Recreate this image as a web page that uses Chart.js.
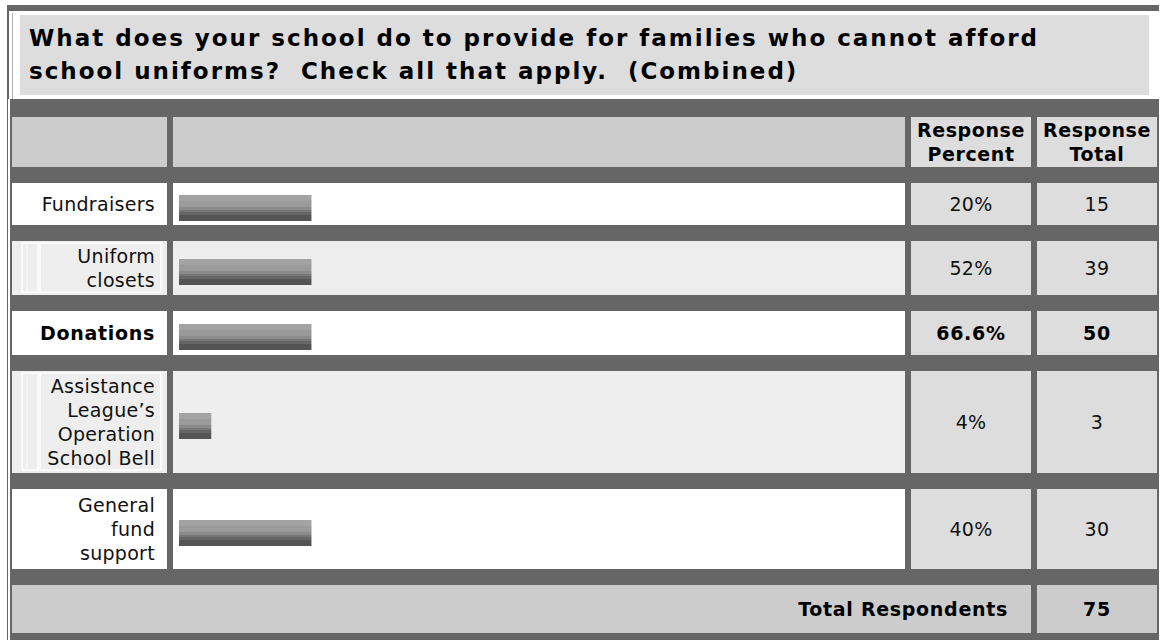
<!DOCTYPE html>
<html>
<head>
<meta charset="utf-8">
<script src="https://cdn.jsdelivr.net/npm/chart.js"></script>
<style>
  html,body{margin:0;padding:0;background:#fff;width:1161px;height:640px;overflow:hidden;}
  body{font-family:"DejaVu Sans",Verdana,sans-serif;color:#111;}
  #frame{position:absolute;left:7px;top:5px;width:1152px;height:640px;background:#666;}
  #titleWrap{position:absolute;left:2px;top:6px;width:1150px;height:88px;background:#fff;}
  #titleWrap .edge{position:absolute;left:3px;top:2px;bottom:0;width:1px;background:#b0b0b0;}
  #title{position:absolute;left:11px;top:4px;width:1129px;height:80px;background:#ddd;
    font-weight:bold;font-size:23px;letter-spacing:2px;line-height:33px;padding:7px 0 0 9px;box-sizing:border-box;color:#000;white-space:nowrap;}
  #leftLine{position:absolute;left:1px;top:94px;width:2px;bottom:0;background:#fff;}
  #grid{position:absolute;left:0;top:94px;display:grid;
    grid-template-columns:155px 732px 120px 120px;
    grid-template-rows:50px 42px 54px 44px 102px 80px 48px;
    column-gap:6px;row-gap:16px;padding:18px 0 0 5px;}
  .cell{display:flex;align-items:center;font-size:19px;letter-spacing:0.3px;line-height:24px;white-space:pre-line;position:relative;box-sizing:border-box;}
  .hdr{background:#ccc;}
  .hdrR{background:#ddd;justify-content:center;text-align:center;font-weight:bold;letter-spacing:0.6px;color:#000;}
  .lab{justify-content:flex-end;text-align:right;padding-right:12px;}
  .num{background:#ddd;justify-content:center;text-align:center;}
  .white{background:#fff;}
  .light{background:#eee;}
  .bold{font-weight:bold;letter-spacing:0.7px;color:#000;}
  .nested::before{content:"";position:absolute;left:9px;top:1px;right:5px;bottom:2px;border:2px solid #fafafa;}
  .nested::after{content:"";position:absolute;left:25px;top:3px;bottom:4px;width:4px;background:#fafafa;box-shadow:-12px 0 0 -1px #f5f5f5;}
  .nested span{position:relative;z-index:1;}
  .barWrap{position:absolute;left:6px;top:calc(50% - 9px);width:726px;height:26px;}
  .totalLab{grid-column:1 / span 3;background:#ccc;justify-content:flex-end;padding-right:23px;font-weight:bold;letter-spacing:0.7px;color:#000;}
  .totalNum{background:#ccc;justify-content:center;font-weight:bold;letter-spacing:0.7px;color:#000;}
</style>
</head>
<body>
<div id="frame">
  <div id="titleWrap"><div class="edge"></div>
    <div id="title">What does your school do to provide for families who cannot afford<br>school uniforms?&nbsp; Check all that apply.&nbsp; (Combined)</div>
  </div>
  <div id="grid"></div>
  <div id="leftLine"></div>
</div>
<script>
// data
const categories = ['Fundraisers', 'Uniform\nclosets', 'Donations', 'Assistance\nLeague\u2019s\nOperation\nSchool Bell', 'General\nfund\nsupport'];
const responsePercent = ['20%', '52%', '66.6%', '4%', '40%'];
const responseTotal = [15, 39, 50, 3, 30];
// bar lengths as they are drawn in the picture (percent of the bar column)
const barShown = [18.2, 18.2, 18.2, 4.4, 18.2];
const headers = ['Response\nPercent', 'Response\nTotal'];
const totalLabel = 'Total Respondents';
const totalRespondents = 75;
const boldRow = 2; // the highest answer is printed in bold
const nestedRows = [1, 3];

const grid = document.getElementById('grid');
function cell(cls, text){
  const d = document.createElement('div');
  d.className = 'cell ' + cls;
  if(text !== undefined){ const s = document.createElement('span'); s.textContent = text; d.appendChild(s); }
  grid.appendChild(d);
  return d;
}

// header row
cell('hdr'); cell('hdr');
headers.forEach(h => cell('hdrR', h));

// one small horizontal bar chart per answer row
function barFill(c){
  const {ctx, chartArea} = c.chart;
  if(!chartArea) return '#888';
  const g = ctx.createLinearGradient(0, chartArea.top, 0, chartArea.bottom);
  const bands = [[0,'#a3a3a3'],[6,'#9a9a9a'],[12,'#8b8b8b'],[15,'#777'],[17,'#666'],[20,'#555'],[26,'#555']];
  for(let i=0;i<bands.length-1;i++){
    g.addColorStop(bands[i][0]/26, bands[i][1]);
    g.addColorStop(Math.max(bands[i][0], bands[i+1][0]-0.01)/26, bands[i][1]);
  }
  return g;
}

categories.forEach((cat,i)=>{
  const shade = i % 2 ? 'light' : 'white';
  const b = i === boldRow ? ' bold' : '';
  cell('lab ' + shade + b + (nestedRows.includes(i) ? ' nested' : ''), cat);
  const barCell = cell(shade);
  const wrap = document.createElement('div'); wrap.className = 'barWrap';
  const cv = document.createElement('canvas'); cv.width = 726; cv.height = 26;
  wrap.appendChild(cv); barCell.appendChild(wrap);
  cell('num' + b, responsePercent[i]);
  cell('num' + b, String(responseTotal[i]));

  new Chart(cv, {
    type:'bar',
    data:{ labels:[cat], datasets:[{ data:[barShown[i]], backgroundColor:barFill, borderWidth:0,
      categoryPercentage:1, barPercentage:1 }] },
    options:{
      indexAxis:'y', responsive:false, animation:false, events:[],
      layout:{padding:0},
      scales:{ x:{display:false, min:0, max:100}, y:{display:false} },
      plugins:{ legend:{display:false}, tooltip:{enabled:false} }
    }
  });
});

// total row
cell('totalLab', totalLabel);
cell('totalNum', String(totalRespondents));
</script>
</body>
</html>
